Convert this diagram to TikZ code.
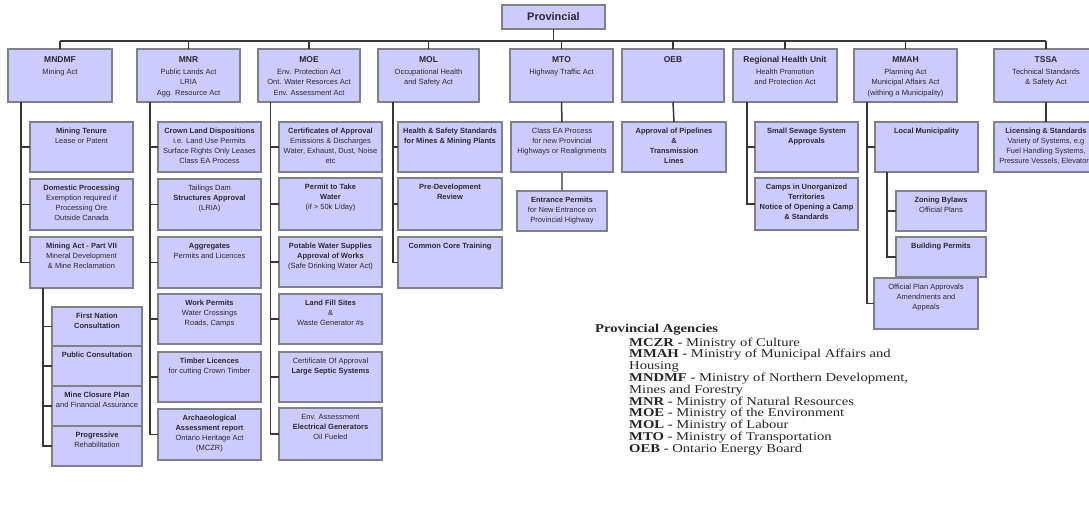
\documentclass[tikz,border=0pt]{standalone}
\usepackage{fontspec}
\setmainfont{Liberation Sans}
\newfontfamily\legfont[FakeStretch=1.22]{Liberation Serif}
\definecolor{boxfill}{RGB}{204,204,252}
\definecolor{boxline}{RGB}{128,128,138}
\definecolor{lineC}{RGB}{55,55,55}
\definecolor{lineG}{RGB}{120,120,120}
\definecolor{txtC}{RGB}{40,40,55}
\tikzset{
  box/.style={draw=boxline, fill=boxfill, line width=1.1pt, inner sep=0pt, outer sep=0pt, text=txtC, font=\fontsize{7.5}{10}\selectfont},
  topbox/.style={box, font=\fontsize{7.5}{10.5}\selectfont},
  conn/.style={draw=lineC, line width=1.5pt},
  conng/.style={draw=lineG, line width=1.5pt},
  leg/.style={font=\legfont\fontsize{12}{12}\selectfont, anchor=base west, inner sep=0pt, text=black!85},
}
\newcommand\bx[6]{%
  \pgfmathsetmacro\bxw{#4-#2}\pgfmathsetmacro\bxh{#5-#3}%
  \node[box, anchor=north west] (#1) at (#2,#3) {\parbox[t][\bxh pt][t]{\bxw pt}{\centering\rule{0pt}{11.5pt}#6\par}};}
\newcommand\hb[6]{%
  \pgfmathsetmacro\bxw{#4-#2}\pgfmathsetmacro\bxh{#5-#3}%
  \node[topbox, anchor=north west] (#1) at (#2,#3) {\parbox[t][\bxh pt][t]{\bxw pt}{\centering\rule{0pt}{13pt}#6\par}};}
\newcommand\ttl[1]{{\fontsize{8.5}{10}\selectfont\bfseries #1}}
\begin{document}
\begin{tikzpicture}[x=1pt,y=-1pt]
\useasboundingbox (0,0) rectangle (1089,504);
\clip (0,0) rectangle (1089,504);
\fill[white] (0,0) rectangle (1089,504);

% top
\node[box, anchor=north west, minimum width=103pt, minimum height=24pt, font=\fontsize{11}{13}\selectfont\bfseries] (prov) at (502,5) {Provincial};

% level 1
\hb{mndmf}{8}{49}{112}{102}{\ttl{MNDMF}\\[1.5pt]Mining Act}
\hb{mnr}{137}{49}{240}{102}{\ttl{MNR}\\[1.5pt]Public Lands Act\\LRIA\\Agg. Resource Act}
\hb{moe}{258}{49}{360}{102}{\ttl{MOE}\\[1.5pt]Env. Protection Act\\Ont. Water Resorces Act\\Env. Assessment Act}
\hb{mol}{378}{49}{479}{102}{\ttl{MOL}\\[1.5pt]Occupational Health\\and Safety Act}
\hb{mto}{510}{49}{613}{102}{\ttl{MTO}\\[1.5pt]Highway Traffic Act}
\hb{oeb}{622}{49}{724}{102}{\ttl{OEB}}
\hb{rhu}{733}{49}{837}{102}{\ttl{Regional Health Unit}\\[1.5pt]Health Promotion\\and Protection Act}
\hb{mmah}{854}{49}{957}{102}{\ttl{MMAH}\\[1.5pt]Planning Act\\Municipal Affairs Act\\(withing a Municipality)}
\hb{tssa}{994}{49}{1098}{102}{\ttl{TSSA}\\[1.5pt]Technical Standards\\\& Safety Act}

% MNDMF column
\bx{mt}{30}{122}{133}{172}{\textbf{Mining Tenure}\\Lease or Patent}
\bx{dp}{30}{179}{133}{230}{\textbf{Domestic Processing}\\Exemption required if\\Processing Ore\\Outside Canada}
\bx{ma}{30}{237}{133}{288}{\textbf{Mining Act - Part VII}\\Mineral Development\\\& Mine Reclamation}
\bx{fn}{52}{307}{142}{346}{\textbf{First Nation}\\\textbf{Consultation}}
\bx{pc}{52}{346}{142}{386}{\textbf{Public Consultation}}
\bx{mc}{52}{386}{142}{426}{\textbf{Mine Closure Plan}\\and Financial Assurance}
\bx{pr}{52}{426}{142}{466}{\textbf{Progressive}\\Rehabilitation}

% MNR column
\bx{cl}{158}{122}{261}{172}{\textbf{Crown Land Dispositions}\\i.e. Land Use Permits\\Surface Rights Only Leases\\Class EA Process}
\bx{td}{158}{179}{261}{230}{Tailings Dam\\\textbf{Structures Approval}\\(LRIA)}
\bx{ag}{158}{237}{261}{288}{\textbf{Aggregates}\\Permits and Licences}
\bx{wp}{158}{294}{261}{344}{\textbf{Work Permits}\\Water Crossings\\Roads, Camps}
\bx{tl}{158}{352}{261}{402}{\textbf{Timber Licences}\\for cutting Crown Timber}
\bx{ar}{158}{409}{261}{460}{\textbf{Archaeological}\\\textbf{Assessment report}\\Ontario Heritage Act\\(MCZR)}

% MOE column
\bx{ca}{279}{122}{382}{172}{\textbf{Certificates of Approval}\\Emissions \& Discharges\\Water, Exhaust, Dust, Noise\\etc}
\bx{pt}{279}{178}{382}{230}{\textbf{Permit to Take}\\\textbf{Water}\\(if > 50k L/day)}
\bx{pw}{279}{237}{382}{287}{\textbf{Potable Water Supplies}\\\textbf{Approval of Works}\\(Safe Drinking Water Act)}
\bx{lf}{279}{294}{382}{344}{\textbf{Land Fill Sites}\\\&\\Waste Generator \#s}
\bx{co}{279}{352}{382}{402}{Certificate Of Approval\\\textbf{Large Septic Systems}}
\bx{ea}{279}{408}{382}{460}{Env. Assessment\\\textbf{Electrical Generators}\\Oil Fueled}

% MOL column
\bx{hs}{398}{122}{502}{172}{\textbf{Health \& Safety Standards}\\\textbf{for Mines \& Mining Plants}}
\bx{pd}{398}{178}{502}{230}{\textbf{Pre-Development}\\\textbf{Review}}
\bx{cc}{398}{237}{502}{288}{\textbf{Common Core Training}}

% MTO column
\bx{cea}{511}{122}{613}{172}{Class EA Process\\for new Provincial\\Highways or Realignments}
\bx{ent}{517}{191}{607}{231}{\textbf{Entrance Permits}\\for New Entrance on\\Provincial Highway}

% OEB column
\bx{pipe}{622}{122}{726}{172}{\textbf{Approval of Pipelines}\\\textbf{\&}\\\textbf{Transmission}\\\textbf{Lines}}

% RHU column
\bx{ss}{755}{122}{858}{172}{\textbf{Small Sewage System}\\\textbf{Approvals}}
\bx{cu}{755}{178}{858}{230}{\textbf{Camps in Unorganized}\\\textbf{Territories}\\\textbf{Notice of Opening a Camp}\\\textbf{\& Standards}}

% MMAH column
\bx{lm}{875}{122}{978}{172}{\textbf{Local Municipality}}
\bx{zb}{896}{191}{986}{231}{\textbf{Zoning Bylaws}\\Official Plans}
\bx{bp}{896}{237}{986}{277}{\textbf{Building Permits}}
\bx{op}{874}{278}{978}{329}{Official Plan Approvals\\Amendments and\\Appeals}

% TSSA column
\bx{lic}{994}{122}{1098}{172}{\textbf{Licensing \& Standards}\\Variety of Systems, e.g\\Fuel Handling Systems,\\Pressure Vessels, Elevators}

% connectors: bus
\coordinate (busL) at (60,41);
\coordinate (busR) at (1046,41);
\draw[conn] (busL) -- (busR);
\draw[conn] (prov.south) -- (prov.south |- busL);
\foreach \n in {mndmf,mnr,moe,mol,mto,oeb,rhu,mmah,tssa}
  \draw[conn] (\n.north) -- (\n.north |- busL);

% trunks
\foreach \c in {mt,dp,ma} \draw[conn] ([xshift=13pt]mndmf.south west) |- (\c.west);
\foreach \c in {fn,pc,mc,pr} \draw[conn] ([xshift=13pt]ma.south west) |- (\c.west);
\foreach \c in {cl,td,ag,wp,tl,ar} \draw[conn] ([xshift=13pt]mnr.south west) |- (\c.west);
\foreach \c in {ca,pt,pw,lf,co,ea} \draw[conn] ([xshift=12.5pt]moe.south west) |- (\c.west);
\foreach \c in {hs,pd,cc} \draw[conn] ([xshift=15pt]mol.south west) |- (\c.west);
\draw[conn] (mto.south) -- (cea.north);
\draw[conng] (cea.south) -- (ent.north);
\draw[conn] (oeb.south) -- (pipe.north);
\foreach \c in {ss,cu} \draw[conn] ([xshift=14pt]rhu.south west) |- (\c.west);
\foreach \c in {lm,op} \draw[conn] ([xshift=13pt]mmah.south west) |- (\c.west);
\foreach \c in {zb,bp} \draw[conn] ([xshift=12pt]lm.south west) |- (\c.west);
\draw[conn] (tssa.south) -- (lic.north);

% legend
\node[leg] (lh) at (595,332) {\textbf{Provincial Agencies}};
\node[leg] (l1) at (629,346) {\textbf{MCZR -} Ministry of Culture};
\node[leg] (l2) at (629,357.8) {\textbf{MMAH -} Ministry of Municipal Affairs and};
\node[leg] (l3) at (629,369.6) {Housing};
\node[leg] (l4) at (629,381.4) {\textbf{MNDMF -} Ministry of Northern Development,};
\node[leg] (l5) at (629,393.2) {Mines and Forestry};
\node[leg] (l6) at (629,405) {\textbf{MNR -} Ministry of Natural Resources};
\node[leg] (l7) at (629,416.8) {\textbf{MOE -} Ministry of the Environment};
\node[leg] (l8) at (629,428.6) {\textbf{MOL -} Ministry of Labour};
\node[leg] (l9) at (629,440.4) {\textbf{MTO -} Ministry of Transportation};
\node[leg] (l10) at (629,452.2) {\textbf{OEB -} Ontario Energy Board};
\end{tikzpicture}
\end{document}
